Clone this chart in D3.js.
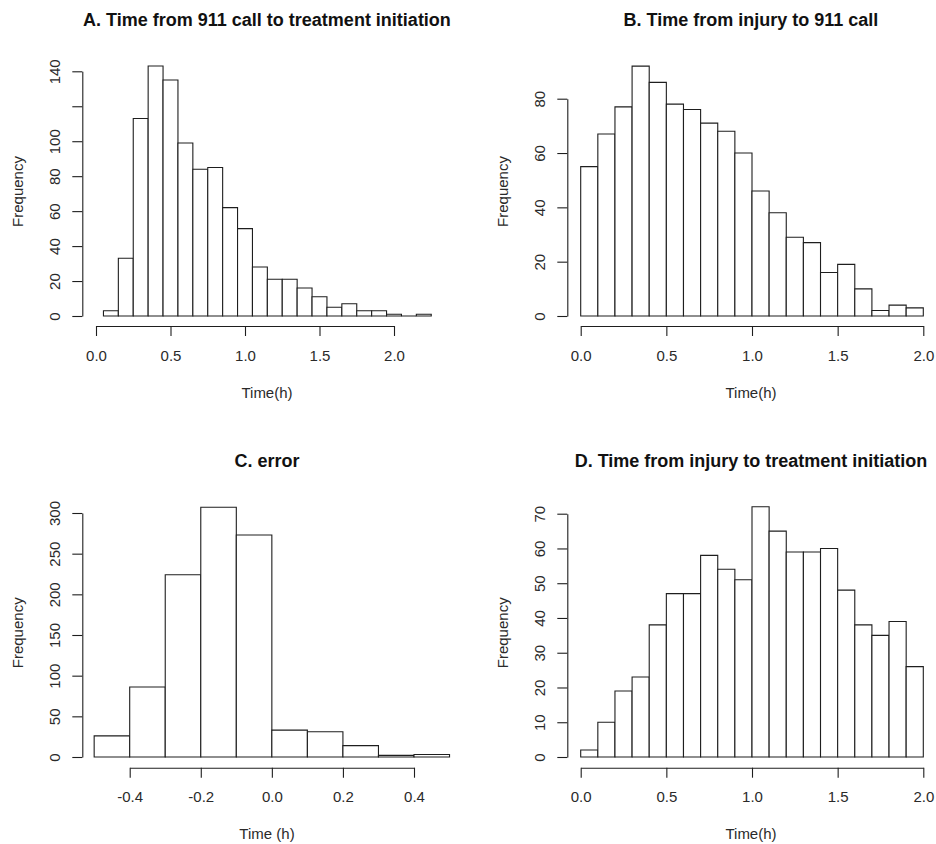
<!DOCTYPE html>
<html>
<head>
<meta charset="utf-8">
<script src="https://cdn.jsdelivr.net/npm/d3@7"></script>
<style>
  body { margin: 0; background: #fff; }
  svg { display: block; font-family: "Liberation Sans", Arial, sans-serif; }
</style>
</head>
<body>
<div id="chart"></div>
<script>
// histogram counts, one per bin
const countsA = [3, 33, 113, 143, 135, 99, 84, 85, 62, 50, 28, 21, 21, 16, 11, 5, 7, 3, 3, 1, 0, 1];
const countsB = [55, 67, 77, 92, 86, 78, 76, 71, 68, 60, 46, 38, 29, 27, 16, 19, 10, 2, 4, 3];
const countsC = [26, 86, 224, 307, 273, 33, 31, 14, 2, 3];
const countsD = [2, 10, 19, 23, 38, 47, 47, 58, 54, 51, 72, 65, 59, 59, 60, 48, 38, 35, 39, 26];

// first break and bin width of each histogram
const binStarts = [0.05, 0.0, -0.5, 0.0];
const binWidths = [0.1, 0.1, 0.1, 0.1];

// axis ticks and which of them carry a label
const xTicksA = [0, 0.5, 1.0, 1.5, 2.0];
const xTicksB = [0, 0.5, 1.0, 1.5, 2.0];
const xTicksC = [-0.4, -0.2, 0, 0.2, 0.4];
const xTicksD = [0, 0.5, 1.0, 1.5, 2.0];
const yTicksA = [0, 20, 40, 60, 80, 100, 120, 140];
const yLabelsA = [0, 20, 40, 60, 80, 100, 140];
const yTicksB = [0, 20, 40, 60, 80];
const yTicksC = [0, 50, 100, 150, 200, 250, 300];
const yTicksD = [0, 10, 20, 30, 40, 50, 60, 70];

const titles = [
  "A. Time from 911 call to treatment initiation",
  "B. Time from injury to 911 call",
  "C. error",
  "D. Time from injury to treatment initiation"
];
const xTitles = ["Time(h)", "Time(h)", "Time (h)", "Time(h)"];
const yTitle = "Frequency";

const W = 936, H = 844;

// pixel layout of each panel
const panels = [
  { counts: countsA, xTicks: xTicksA, yTicks: yTicksA, yLabels: yLabelsA,
    xPx: [96, 394], yPx: [316, 71.3], axisX: 82.3, axisY: 326, cx: 267, top: 0 },
  { counts: countsB, xTicks: xTicksB, yTicks: yTicksB, yLabels: yTicksB,
    xPx: [580.7, 923.3], yPx: [316, 98.7], axisX: 567.3, axisY: 326, cx: 751, top: 0 },
  { counts: countsC, xTicks: xTicksC, yTicks: yTicksC, yLabels: yTicksC,
    xPx: [129.7, 414], yPx: [757, 513], axisX: 82.3, axisY: 767.7, cx: 267, top: 441.3 },
  { counts: countsD, xTicks: xTicksD, yTicks: yTicksD, yLabels: yTicksD,
    xPx: [580.7, 923.3], yPx: [757, 513.7], axisX: 567.3, axisY: 767.7, cx: 751, top: 441.3 }
];

const svg = d3.select("#chart").append("svg")
  .attr("width", W)
  .attr("height", H);

const ink = "#1e1e1e";
const fmt = d => d.toFixed(1);

panels.forEach(function(p, i) {
  const g = svg.append("g");

  const x = d3.scaleLinear()
    .domain(d3.extent(p.xTicks))
    .range(p.xPx);
  const y = d3.scaleLinear()
    .domain(d3.extent(p.yTicks))
    .range(p.yPx);

  const bins = p.counts.map((c, k) => ({
    x0: binStarts[i] + k * binWidths[i],
    x1: binStarts[i] + (k + 1) * binWidths[i],
    count: c
  }));

  // bars as closed paths so empty bins still show their outline
  g.selectAll("path.bar")
    .data(bins)
    .enter()
    .append("path")
      .attr("class", "bar")
      .attr("d", function(d) {
        const x0 = x(d.x0), x1 = x(d.x1), y0 = y(0), y1 = y(d.count);
        return "M" + x0 + "," + y0 + "V" + y1 + "H" + x1 + "V" + y0 + "Z";
      })
      .attr("fill", "#fff")
      .attr("stroke", ink)
      .attr("stroke-width", 1.1);

  // x axis
  const xAxis = g.append("g")
    .attr("transform", "translate(0," + p.axisY + ")")
    .call(d3.axisBottom(x).tickValues(p.xTicks).tickSize(10).tickSizeOuter(0).tickFormat(fmt));
  xAxis.selectAll("path, line").attr("stroke", ink).attr("stroke-width", 1.1);
  xAxis.selectAll("text")
    .attr("y", p.top + 360.5 - p.axisY)
    .attr("dy", 0)
    .attr("fill", "#2a2a2a")
    .style("font-size", "15px")
    .style("font-family", "Liberation Sans, Arial, sans-serif");

  // y axis, labels parallel to the axis
  const yAxis = g.append("g")
    .attr("transform", "translate(" + p.axisX + ",0)")
    .call(d3.axisLeft(y).tickValues(p.yTicks).tickSize(10).tickSizeOuter(0)
      .tickFormat(d => p.yLabels.includes(d) ? String(d) : ""));
  yAxis.selectAll("path, line").attr("stroke", ink).attr("stroke-width", 1.1);
  yAxis.selectAll("text")
    .attr("transform", "rotate(-90)")
    .attr("x", 0)
    .attr("y", -22.8)
    .attr("dy", 0)
    .attr("text-anchor", "middle")
    .attr("fill", "#2a2a2a")
    .style("font-size", "15px")
    .style("font-family", "Liberation Sans, Arial, sans-serif");

  // panel title
  g.append("text")
    .attr("x", p.cx)
    .attr("y", p.top + 25.7)
    .attr("text-anchor", "middle")
    .style("font-size", "18px")
    .style("font-weight", "bold")
    .attr("fill", "#111")
    .text(titles[i]);

  // x axis title
  g.append("text")
    .attr("x", p.cx)
    .attr("y", p.top + 397.6)
    .attr("text-anchor", "middle")
    .style("font-size", "15px")
    .attr("fill", "#2a2a2a")
    .text(xTitles[i]);

  // y axis title
  const plotMidY = p.top + 191.5;
  g.append("text")
    .attr("transform", "translate(" + (p.axisX - 59.8) + "," + plotMidY + ") rotate(-90)")
    .attr("text-anchor", "middle")
    .style("font-size", "15px")
    .attr("fill", "#2a2a2a")
    .text(yTitle);
});
</script>
</body>
</html>
